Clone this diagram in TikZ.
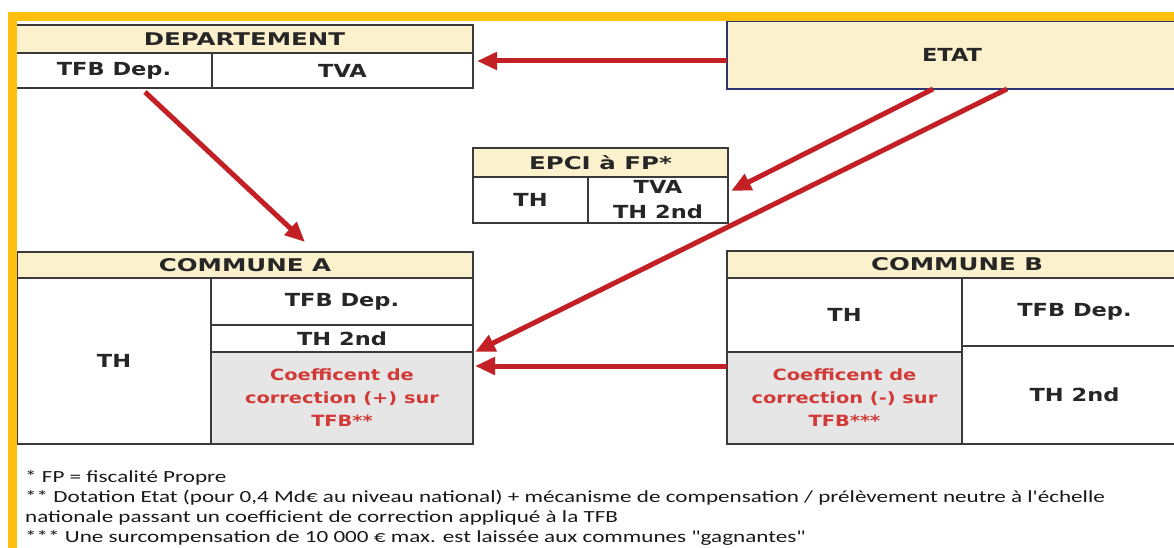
\documentclass[tikz,border=0pt]{standalone}
\usepackage{fontspec}
\newfontfamily\tb[FakeStretch=1.25]{DejaVu Sans}
\newfontfamily\hdrfont[FakeStretch=1.4]{DejaVu Sans}
\newfontfamily\fn[FakeStretch=1.36]{Carlito}
\usetikzlibrary{arrows.meta}
\definecolor{yfr}{HTML}{FDC010}
\definecolor{hdrfill}{HTML}{FBF1CD}
\definecolor{coefgray}{HTML}{E6E6E6}
\definecolor{redarr}{HTML}{C32026}
\definecolor{redtxt}{HTML}{D13A36}
\definecolor{tline}{HTML}{3A3A3A}
\definecolor{navy}{HTML}{2B3574}
\tikzset{
  cell/.style={draw=tline, line width=1.8pt, inner sep=0pt, outer sep=0pt, anchor=north west, align=center,
    font=\tb\bfseries\fontsize{18}{24}\selectfont, text=black!85},
  hdr/.style={cell, fill=hdrfill, font=\hdrfont\bfseries\fontsize{17.5}{22}\selectfont},
  coef/.style={cell, fill=coefgray, text=redtxt, font=\tb\bfseries\fontsize{15.5}{23}\selectfont},
  arr/.style={draw=redarr, line width=5pt, -{Triangle[length=20pt,width=17pt]}},
  foot/.style={anchor=base west, inner sep=0pt, font=\fn\fontsize{17}{20}\selectfont, text=black!90}
}
\begin{document}
\begin{tikzpicture}[x=1pt,y=-1pt]
\fill[white] (0,0) rectangle (1174,548);
\useasboundingbox (0,0) rectangle (1174,548);
% DEPARTEMENT
\node[hdr, minimum width=457pt, minimum height=28pt] (dhdr) at (16,25) {DEPARTEMENT};
\node[cell, minimum width=196pt, minimum height=35pt] (dtfb) at (16,53) {TFB Dep.};
\node[cell, minimum width=261pt, minimum height=35pt] (dtva) at (212,53) {TVA};
% ETAT
\node[cell, draw=navy, fill=hdrfill, minimum width=450pt, minimum height=68pt] (etat) at (727,21) {ETAT};
% EPCI
\node[hdr, minimum width=255pt, minimum height=29pt] (ehdr) at (473,148) {EPCI à FP*};
\node[cell, minimum width=115pt, minimum height=46pt] (eth) at (473,177) {TH};
\node[cell, minimum width=140pt, minimum height=46pt, font=\tb\bfseries\fontsize{18}{25}\selectfont] (etva) at (588,177) {TVA\\TH 2nd};
% COMMUNE A
\node[hdr, minimum width=456pt, minimum height=26pt] (cahdr) at (17,252) {COMMUNE A};
\node[cell, minimum width=194pt, minimum height=166pt] (cath) at (17,278) {TH};
\node[cell, minimum width=262pt, minimum height=47pt] (catfb) at (211,278) {TFB Dep.};
\node[cell, minimum width=262pt, minimum height=27pt] (cath2) at (211,325) {TH 2nd};
\node[coef, minimum width=262pt, minimum height=92pt] (cacoef) at (211,352) {Coefficent de\\correction (+) sur\\TFB**};
% COMMUNE B
\node[hdr, minimum width=460pt, minimum height=27pt] (cbhdr) at (727,251) {COMMUNE B};
\node[cell, minimum width=235pt, minimum height=74pt] (cbth) at (727,278) {TH};
\node[coef, minimum width=235pt, minimum height=92pt] (cbcoef) at (727,352) {Coefficent de\\correction (-) sur\\TFB***};
\node[cell, minimum width=225pt, minimum height=68pt] (cbtfb) at (962,278) {TFB Dep.};
\node[cell, minimum width=225pt, minimum height=98pt] (cbth2) at (962,346) {TH 2nd};
% frame
\draw[yfr, line width=9pt, line join=miter] (12.5,560) -- (12.5,17) -- (1190,17);
% arrows
\draw[arr] ([yshift=-6pt]etat.west) -- ([xshift=4pt,yshift=-6pt]etat.west -| dtva.east);
\draw[arr] ([xshift=31pt,yshift=-4pt]dtfb.south) -- ([xshift=60pt,yshift=10pt]cahdr.north);
\draw[arr] ([xshift=-19pt]etat.south) -- ([xshift=3pt,yshift=9pt]etva.east);
\draw[arr] ([xshift=55pt]etat.south) -- ([xshift=2pt]cacoef.north east);
\draw[arr] ([yshift=32pt]cbcoef.west) -- ([xshift=2pt,yshift=32pt]cacoef.east);
% footnotes
\node[foot] (fn1) at (25,482) {* FP = fiscalité Propre};
\node[foot] (fn2) at (25,502) {** Dotation Etat (pour 0,4 Md€ au niveau national) + mécanisme de compensation / prélèvement neutre à l'échelle};
\node[foot] (fn3) at (25,522) {nationale passant un coefficient de correction appliqué à la TFB};
\node[foot] (fn4) at (25,542) {*** Une surcompensation de 10 000 € max. est laissée aux communes "gagnantes"};
\end{tikzpicture}
\end{document}
